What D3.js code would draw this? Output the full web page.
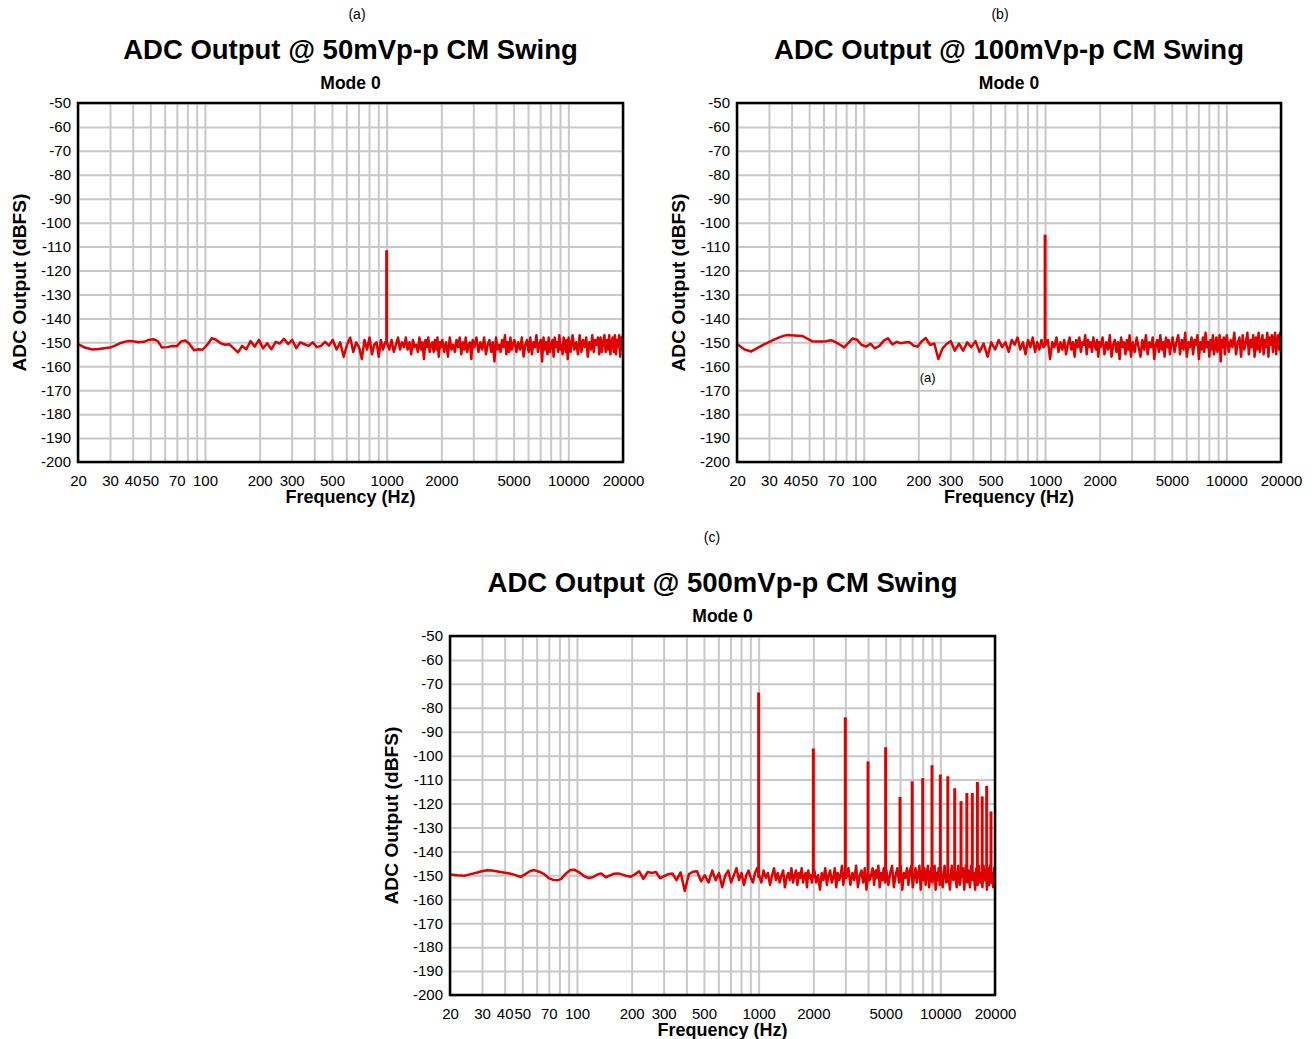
<!DOCTYPE html>
<html><head><meta charset="utf-8">
<script src="https://cdn.jsdelivr.net/npm/d3@7"></script>
<style>body{margin:0;background:#fff}text{font-family:"Liberation Sans",Arial,sans-serif;fill:#000}</style>
</head><body>
<svg id="chart" width="1312" height="1039"></svg>
<script>
// ---------- DATA ----------
const freq = [20,22,24,26,28,30,32,34,36,38,40,43,46,49,52,55,58,62,66,70,74,78,82,87,92,97,103,109,115,122,129,136,144,152,160,169,178,188,198,209,220,232,245,258,272,287,302,318,335,353,372,392,413,435,458,482,
505,530,555,580,605,630,655,680,705,730,755,780,805,830,855,880,905,930,955,980,
1005,1035,1065,1095,1125,1155,1185,1215,1245,1275,1305,1335,1365,1395,1425,1455,1485,1515,1545,1575,1605,1635,1665,1695,1725,1755,1785,1815,1845,1875,1905,1935,1965,1995,
2025,2075,2125,2175,2225,2275,2325,2375,2425,2475,2525,2575,2625,2675,2725,2775,2825,2875,2925,2975,
3040,3120,3200,3280,3360,3440,3520,3600,3680,3760,3840,3920,4000,4080,4160,4240,4320,4400,4480,4560,4640,4720,4800,4880,4960,
5050,5175,5300,5425,5550,5675,5800,5925,6050,6175,6300,6425,6550,6675,6800,6925,7050,7175,7300,7425,7550,7675,7800,7925,8050,8175,8300,8425,8550,8675,8800,8925,9050,9175,9300,9425,9550,9675,9800,9925,
10050,10300,10550,10800,11050,11300,11550,11800,12050,12300,12550,12800,13050,13300,13550,13800,14050,14300,14550,14800,15050,15300,15550,15800,16050,16300,16550,16800,17050,17300,17550,17800,18050,18300,18550,18800,19050,19300,19550,19800,20000];

const dbA = [-150.7,-152.3,-153,-152.8,-152.5,-152.2,-151.4,-150.4,-149.8,-149.4,-149.5,-150,-149.8,-149,-148.7,-149.5,-152.2,-152,-151.5,-151.6,-149.6,-149.2,-150.6,-153.3,-152.9,-153.1,-151,-148.3,-148.9,-150.4,-151,-150.8,-152.5,-154.2,-151.5,-152.9,-149.5,-151.8,-149,-152.5,-150.4,-152.9,-149.8,-150.5,-148.5,-150.7,-149,-152.4,-150,-150.8,-151.5,-150,-152,-151.5,-149.8,-151.4,
-149,-153,-150,-156,-151,-148,-154,-150,-152,-157,-149,-153,-148,-155,-151,-150,-156,-149,-153,-150,
-150,-153,-149,-154,-151,-148,-153,-150,-152,-148,-153,-150,-155,-149,-152,-151,-154,-148,-153,-150,-157,-149,-152,-148,-154,-151,-150,-154,-149,-153,-148,-156,-150,-152,
-149,-154,-150,-156,-148,-153,-151,-154,-149,-152,-148,-155,-150,-153,-148,-154,-151,-150,-157,-149,
-152,-148,-154,-150,-153,-148,-155,-151,-149,-154,-150,-158,-148,-153,-151,-154,-149,-152,-147,-155,-150,-154,-148,-153,-151,
-149,-154,-150,-153,-148,-156,-151,-149,-154,-148,-155,-150,-152,-147,-154,-151,-149,-158,-148,-153,-150,-155,-148,-154,-151,-149,-156,-148,-152,-150,-154,-147,-153,-151,-155,-148,-150,-154,-149,-157,
-148,-154,-147,-153,-150,-155,-147,-154,-149,-152,-148,-156,-150,-153,-147,-154,-149,-151,-148,-155,-148,-154,-150,-147,-154,-149,-153,-147,-155,-150,-148,-154,-147,-155,-149,-152,-147,-156,-148,-153,-147];

const dbB = [-150.7,-153,-153.8,-152.3,-151,-149.9,-148.9,-148,-147.3,-146.9,-147,-147.2,-147.4,-148.5,-149.6,-149.7,-149.7,-149.5,-149.1,-149.9,-151,-152.1,-150.3,-148.4,-148.9,-151,-151.8,-150.6,-152.5,-151.5,-149.3,-148.3,-150.9,-149.8,-150.4,-150.1,-149.9,-151.3,-151.8,-149.5,-148.2,-151.1,-150.5,-157,-152.5,-150.6,-149.5,-153.5,-150.5,-153.5,-150,-152,-149.5,-154,-150.5,-156,
-150,-153,-149,-152,-150,-154,-149,-151,-148,-153,-150,-155,-149,-152,-148,-154,-150,-153,-149,-152,
-151,-149,-157,-150,-152,-148,-154,-150,-153,-149,-155,-151,-148,-153,-150,-156,-149,-152,-148,-154,-150,-151,-147,-155,-149,-152,-150,-154,-148,-151,-153,-149,-156,-150,
-152,-148,-155,-150,-153,-147,-156,-151,-149,-154,-150,-157,-148,-152,-150,-155,-149,-153,-147,-156,
-150,-154,-148,-152,-156,-149,-153,-147,-155,-150,-152,-148,-157,-151,-149,-154,-147,-153,-150,-156,-148,-152,-149,-155,-151,
-148,-154,-150,-147,-155,-149,-153,-146,-156,-150,-152,-148,-155,-149,-151,-147,-157,-150,-153,-148,-154,-146,-152,-150,-156,-149,-153,-147,-155,-151,-148,-154,-150,-147,-158,-149,-152,-148,-155,-150,
-147,-154,-149,-152,-146,-155,-150,-148,-156,-147,-153,-150,-146,-155,-149,-152,-147,-156,-148,-153,-146,-154,-150,-147,-155,-149,-152,-146,-156,-148,-151,-147,-154,-149,-146,-155,-150,-147,-153,-146,-155];

const dbC = [-149.6,-150,-150.2,-149.5,-148.9,-148.3,-147.9,-148,-148.3,-148.6,-148.9,-149.3,-149.9,-150.7,-149.5,-148.3,-147.8,-148.5,-149.5,-151.2,-151.9,-152.1,-151.5,-149.2,-147.8,-147.7,-148.8,-150.2,-151.1,-150.8,-149.7,-149.2,-150.8,-150,-149.3,-149.2,-149.7,-150.3,-150.6,-149.5,-148.3,-151.5,-148.6,-149,-148.6,-151.2,-150.3,-149.5,-149.2,-152,-148.8,-156.5,-149.5,-148.5,-148.3,-152.5,
-150,-153,-148,-152,-149,-155,-150,-148,-153,-150,-147,-152,-149,-154,-150,-148,-151,-153,-149,-147,
-150,-153,-148,-151,-149,-154,-150,-147,-152,-149,-153,-150,-148,-155,-151,-149,-152,-147,-153,-150,-148,-154,-149,-151,-147,-153,-150,-149,-155,-148,-151,-150,-153,-149,
-148,-153,-150,-156,-149,-152,-147,-154,-150,-148,-153,-151,-147,-155,-149,-152,-150,-146,-154,-149,
-151,-147,-154,-149,-152,-146,-155,-150,-148,-153,-147,-156,-149,-152,-150,-147,-154,-148,-151,-146,-155,-149,-152,-147,-153,
-148,-154,-149,-146,-155,-150,-147,-153,-146,-156,-149,-151,-147,-154,-148,-146,-155,-150,-147,-153,-149,-146,-156,-148,-152,-147,-154,-149,-146,-155,-150,-147,-153,-148,-146,-156,-149,-152,-147,-154,
-147,-155,-146,-153,-149,-156,-146,-152,-148,-155,-146,-154,-149,-147,-156,-146,-153,-148,-155,-146,-152,-149,-156,-147,-154,-146,-153,-149,-155,-146,-152,-148,-156,-147,-154,-146,-153,-149,-155,-147,-153];

const spikeFreqA = [1000];
const spikePeakA = [-111.5];
const spikeFreqB = [1000];
const spikePeakB = [-105];
const spikeFreqC = [1000,2000,3000,4000,5000,6000,7000,8000,9000,10000,11000,12000,13000,14000,15000,16000,17000,18000,19000];
const spikePeakC = [-73.6,-97,-84,-102.4,-96.5,-117.2,-110.7,-109.4,-104,-107.9,-108.6,-113.6,-119,-115.6,-115.6,-111,-117,-112.6,-123.3];
const spikeBase = -151;

const titles = ["ADC Output @ 50mVp-p CM Swing","ADC Output @ 100mVp-p CM Swing","ADC Output @ 500mVp-p CM Swing"];
const subtitle = "Mode 0";
const panelLabels = ["(a)","(b)","(c)"];
const xTickValues = [20,30,40,50,70,100,200,300,500,1000,2000,5000,10000,20000];
const xGridValues = [20,30,40,50,60,70,80,90,100,200,300,400,500,600,700,800,900,1000,2000,3000,4000,5000,6000,7000,8000,9000,10000,20000];
const yTickValues = [-50,-60,-70,-80,-90,-100,-110,-120,-130,-140,-150,-160,-170,-180,-190,-200];
const xTitle = "Frequency (Hz)";
const yTitle = "ADC Output (dBFS)";
const noteB = "(a)";

// ---------- DRAW ----------
const svg = d3.select("#chart");
const RED = "#e00000";
const FONT = '"Liberation Sans",Arial,sans-serif';

const panels = [
  {left:78, top:103, w:545, h:359, db:dbA, sf:spikeFreqA, sp:spikePeakA, ti:0, labX:357, labY:19},
  {left:737, top:103, w:544, h:359, db:dbB, sf:spikeFreqB, sp:spikePeakB, ti:1, labX:1000, labY:19},
  {left:450, top:636, w:545, h:359, db:dbC, sf:spikeFreqC, sp:spikePeakC, ti:2, labX:712, labY:542}
];

panels.forEach((p, i) => {
  const x = d3.scaleLog().domain([20, 20000]).range([p.left, p.left + p.w]);
  const y = d3.scaleLinear().domain([-200, -50]).range([p.top + p.h, p.top]);
  const cx = p.left + p.w / 2;
  const g = svg.append("g");

  // grid
  const gx = g.append("g").attr("transform", `translate(0,${p.top + p.h})`)
    .call(d3.axisBottom(x).tickValues(xGridValues).tickSize(-p.h).tickFormat(""));
  const gy = g.append("g").attr("transform", `translate(${p.left},0)`)
    .call(d3.axisLeft(y).tickValues(yTickValues).tickSize(-p.w).tickFormat(""));
  [gx, gy].forEach(a => { a.select(".domain").remove(); a.selectAll("line").attr("stroke", "#c8c8c8").attr("stroke-width", 2); });

  // tick labels (ASCII hyphen as in the original)
  const ax = g.append("g").attr("transform", `translate(0,${p.top + p.h})`)
    .call(d3.axisBottom(x).tickValues(xTickValues).tickSize(0).tickPadding(13).tickFormat(d => String(d)));
  const ay = g.append("g").attr("transform", `translate(${p.left},0)`)
    .call(d3.axisLeft(y).tickValues(yTickValues).tickSize(0).tickPadding(7).tickFormat(d => String(d)));
  [ax, ay].forEach(a => { a.select(".domain").remove(); a.selectAll("text").attr("font-size", 15).attr("font-family", FONT).attr("fill", "#000"); });

  // clip
  const cid = "clip" + i;
  g.append("clipPath").attr("id", cid).append("rect")
    .attr("x", p.left).attr("y", p.top).attr("width", p.w).attr("height", p.h);

  const line = d3.line().x((d, k) => x(freq[k])).y(d => y(d));
  const plot = g.append("g").attr("clip-path", `url(#${cid})`);
  plot.append("path").datum(p.db).attr("d", line)
    .attr("fill", "none").attr("stroke", RED).attr("stroke-width", 2.5).attr("stroke-linejoin", "round");
  plot.selectAll("line.spike").data(p.sf).join("line").attr("class", "spike")
    .attr("x1", d => x(d)).attr("x2", d => x(d))
    .attr("y1", y(spikeBase)).attr("y2", (d, k) => y(p.sp[k]))
    .attr("stroke", RED).attr("stroke-width", 3);

  // border
  g.append("rect").attr("x", p.left).attr("y", p.top).attr("width", p.w).attr("height", p.h)
    .attr("fill", "none").attr("stroke", "#000").attr("stroke-width", 2.5);

  // texts
  g.append("text").attr("x", p.labX).attr("y", p.labY).attr("text-anchor", "middle").attr("font-size", 14).text(panelLabels[p.ti]);
  g.append("text").attr("x", cx).attr("y", p.top - 44).attr("text-anchor", "middle").attr("font-size", 27.5).attr("font-weight", "bold").text(titles[p.ti]);
  g.append("text").attr("x", cx).attr("y", p.top - 14).attr("text-anchor", "middle").attr("font-size", 17.5).attr("font-weight", "bold").text(subtitle);
  g.append("text").attr("x", cx).attr("y", p.top + p.h + 41).attr("text-anchor", "middle").attr("font-size", 18).attr("font-weight", "bold").text(xTitle);
  g.append("text").attr("transform", `translate(${p.left - 52},${p.top + p.h / 2}) rotate(-90)`)
    .attr("text-anchor", "middle").attr("font-size", 19.2).attr("font-weight", "bold").text(yTitle);
  if (i === 1) {
    g.append("text").attr("x", x(225)).attr("y", y(-166.5)).attr("text-anchor", "middle").attr("font-size", 13).text(noteB);
  }
});
</script>
</body></html>
